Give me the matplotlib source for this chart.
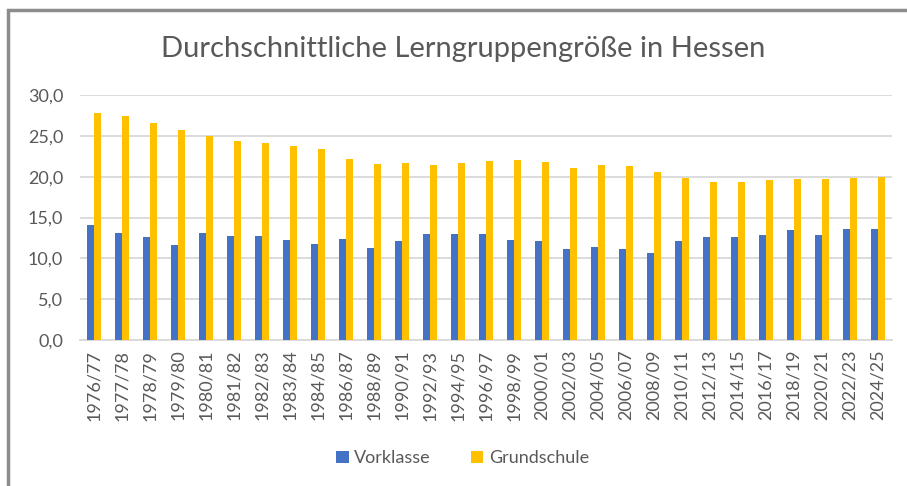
import numpy as np
import matplotlib
matplotlib.use("Agg")
import matplotlib.pyplot as plt
from matplotlib.patches import Rectangle

## data
jahre = ["1976/77", "1977/78", "1978/79", "1979/80", "1980/81", "1981/82",
         "1982/83", "1983/84", "1984/85", "1986/87", "1988/89", "1990/91",
         "1992/93", "1994/95", "1996/97", "1998/99", "2000/01", "2002/03",
         "2004/05", "2006/07", "2008/09", "2010/11", "2012/13", "2014/15",
         "2016/17", "2018/19", "2020/21", "2022/23", "2024/25"]

vorklasse = [14.1, 13.1, 12.6, 11.6, 13.1, 12.7, 12.7, 12.2, 11.7, 12.4,
             11.3, 12.1, 13.0, 13.0, 13.0, 12.2, 12.1, 11.1, 11.4, 11.1,
             10.7, 12.1, 12.6, 12.6, 12.9, 13.5, 12.9, 13.6, 13.6]

grundschule = [27.8, 27.4, 26.6, 25.7, 25.0, 24.4, 24.1, 23.7, 23.4, 22.2,
               21.5, 21.7, 21.4, 21.7, 21.9, 22.0, 21.8, 21.1, 21.4, 21.3,
               20.6, 19.8, 19.4, 19.4, 19.6, 19.7, 19.7, 19.8, 20.0]

y_ticks = [0, 5, 10, 15, 20, 25, 30]

text_col = "#595959"
plt.rcParams["font.family"] = ["Lato", "DejaVu Sans"]

fig = plt.figure(figsize=(9.07, 4.86), dpi=100)
ax = fig.add_axes([0.088, 0.3004, 0.895, 0.5041])

x = np.arange(len(jahre))
w = 0.25
ax.bar(x - w / 2, vorklasse, width=w, color="#4472C4", label="Vorklasse", zorder=3)
ax.bar(x + w / 2, grundschule, width=w, color="#FFC000", label="Grundschule", zorder=3)

ax.set_xlim(-0.5, len(jahre) - 0.5)
ax.set_ylim(0, 30)
ax.set_yticks(y_ticks)
ax.set_yticklabels([f"{v:.1f}".replace(".", ",") for v in y_ticks])
ax.set_xticks(x)
ax.set_xticklabels(jahre, rotation=90)
ax.tick_params(axis="both", length=0, labelsize=13, colors=text_col)
ax.tick_params(axis="y", pad=12)
ax.tick_params(axis="x", pad=7)
ax.grid(axis="y", color="#D9D9D9", linewidth=1.3, zorder=0)
for s in ["top", "right", "left"]:
    ax.spines[s].set_visible(False)
ax.spines["bottom"].set_color("#D9D9D9")
ax.spines["bottom"].set_linewidth(1.3)

fig.text(0.511, 0.9, "Durchschnittliche Lerngruppengröße in Hessen",
         ha="center", va="center", fontsize=21, color=text_col)

fig.legend(loc="center", bbox_to_anchor=(0.51, 0.057), ncol=2, frameon=False,
           fontsize=13, labelcolor=text_col, handlelength=0.7, handleheight=0.7,
           handletextpad=0.3, columnspacing=2.2)

## outer frame
fig.patches.append(Rectangle((8 / 907, -0.05), 1.0, 1 - 10 / 486 + 0.05,
                             transform=fig.transFigure, fill=False,
                             edgecolor="#8C8C8C", linewidth=2.5))

fig.savefig("out.png", dpi=100)
